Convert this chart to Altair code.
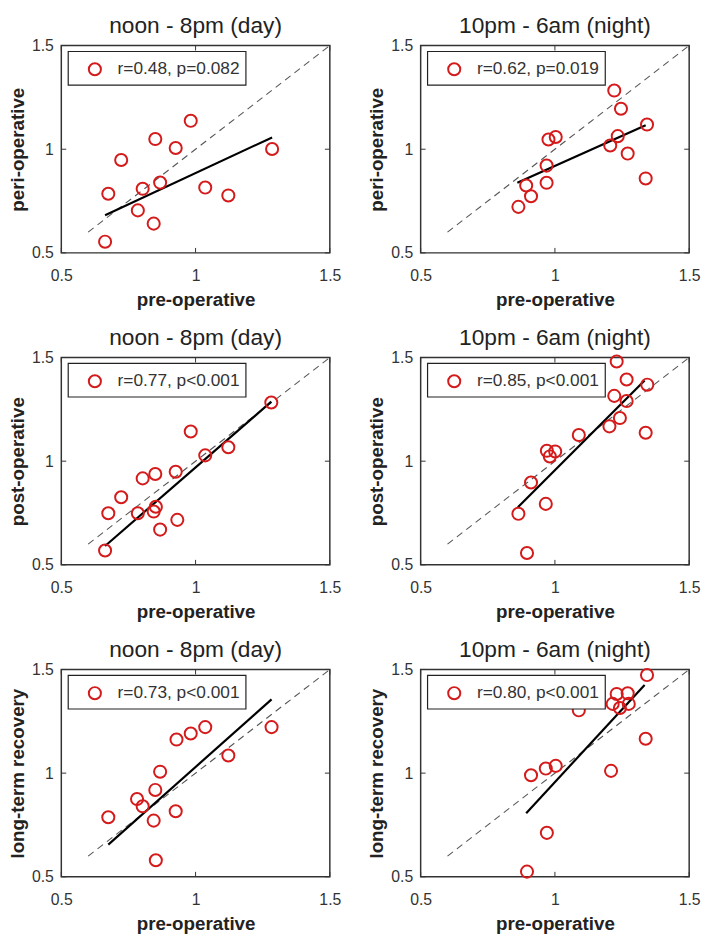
import altair as alt
import pandas as pd

FONT = "Liberation Sans"
COL_TITLES = ["noon - 8pm (day)", "10pm - 6am (night)"]
ROW_YTITLES = ["peri-operative", "post-operative", "long-term recovery"]
XTITLE = "pre-operative"
TICKS = [0.5, 1.0, 1.5]
DIAG = [0.6, 1.5]

# peri-operative, day
a_x = [0.982, 0.850, 0.926, 0.723, 1.285, 0.868, 0.803, 1.036, 1.122, 0.675, 0.785, 0.844, 0.663]
a_y = [1.137, 1.049, 1.006, 0.948, 1.001, 0.839, 0.809, 0.815, 0.777, 0.785, 0.705, 0.641, 0.554]
a_fit_x = [0.663, 1.285]
a_fit_y = [0.682, 1.057]
a_stat = "r=0.48, p=0.082"

# peri-operative, night
b_x = [1.221, 1.246, 1.343, 1.234, 1.206, 1.271, 1.338, 1.003, 0.976, 0.969, 0.969, 0.893, 0.911, 0.864]
b_y = [1.283, 1.195, 1.119, 1.063, 1.018, 0.979, 0.859, 1.059, 1.047, 0.921, 0.838, 0.825, 0.773, 0.722]
b_fit_x = [0.860, 1.338]
b_fit_y = [0.838, 1.116]
b_stat = "r=0.62, p=0.019"

# post-operative, day
c_x = [0.982, 1.282, 1.122, 1.036, 0.803, 0.850, 0.926, 0.723, 0.675, 0.785, 0.852, 0.844, 0.932, 0.868, 0.663]
c_y = [1.143, 1.283, 1.067, 1.028, 0.917, 0.938, 0.949, 0.826, 0.749, 0.749, 0.780, 0.757, 0.717, 0.670, 0.569]
c_fit_x = [0.663, 1.282]
c_fit_y = [0.591, 1.287]
c_stat = "r=0.77, p<0.001"

# post-operative, night
d_x = [1.230, 1.267, 1.344, 1.221, 1.267, 1.242, 1.203, 1.338, 1.089, 0.970, 1.001, 0.981, 0.911, 0.966, 0.864, 0.896]
d_y = [1.481, 1.394, 1.369, 1.315, 1.290, 1.208, 1.168, 1.137, 1.126, 1.050, 1.047, 1.023, 0.897, 0.794, 0.746, 0.557]
d_fit_x = [0.862, 1.334]
d_fit_y = [0.778, 1.389]
d_stat = "r=0.85, p<0.001"

# long-term recovery, day
e_x = [1.036, 0.982, 0.929, 1.283, 1.122, 0.868, 0.850, 0.782, 0.803, 0.926, 0.675, 0.844, 0.852]
e_y = [1.222, 1.191, 1.162, 1.222, 1.085, 1.007, 0.919, 0.875, 0.840, 0.816, 0.787, 0.771, 0.580]
e_fit_x = [0.675, 1.283]
e_fit_y = [0.655, 1.356]
e_stat = "r=0.73, p<0.001"

# long-term recovery, night
f_x = [1.343, 1.230, 1.271, 1.215, 1.275, 1.242, 1.089, 1.338, 0.911, 0.966, 1.003, 1.209, 0.970, 0.896]
f_y = [1.473, 1.382, 1.385, 1.334, 1.334, 1.314, 1.303, 1.166, 0.990, 1.022, 1.035, 1.011, 0.712, 0.525]
f_fit_x = [0.893, 1.334]
f_fit_y = [0.807, 1.425]
f_stat = "r=0.80, p<0.001"

W, H = 272, 210
RED = "#d41a1a"

xscale = alt.Scale(domain=[0.5, 1.5], nice=False, zero=False)
yscale = alt.Scale(domain=[0.5, 1.5], nice=False, zero=False)


def panel(xs, ys, fx, fy, stat, title, ytitle):
    pts = pd.DataFrame({"x": xs, "y": ys})
    fit = pd.DataFrame({"x": fx, "y": fy})
    diag = pd.DataFrame({"x": DIAG, "y": DIAG})
    ticks = pd.DataFrame({"t": TICKS})
    lab = pd.DataFrame({"label": [stat]})

    xenc = alt.X("x:Q", scale=xscale, title=XTITLE,
                 axis=alt.Axis(values=TICKS, format="~g", labelFlush=False))
    yenc = alt.Y("y:Q", scale=yscale, title=ytitle,
                 axis=alt.Axis(values=TICKS, format="~g"))

    diag_l = alt.Chart(diag).mark_line(color="#555555", strokeWidth=1.1, strokeDash=[7, 5]).encode(x=xenc, y=yenc)
    fit_l = alt.Chart(fit).mark_line(color="black", strokeWidth=2.2).encode(x=xenc, y=yenc)
    pt_l = alt.Chart(pts).mark_point(shape="circle", filled=False, color=RED, size=150, strokeWidth=2, opacity=1).encode(x=xenc, y=yenc)

    t_bot = alt.Chart(ticks).mark_rule(color="#333333").encode(
        x=alt.X("t:Q", scale=xscale), y=alt.value(H), y2=alt.value(H - 5))
    t_top = alt.Chart(ticks).mark_rule(color="#333333").encode(
        x=alt.X("t:Q", scale=xscale), y=alt.value(0), y2=alt.value(5))
    t_left = alt.Chart(ticks).mark_rule(color="#333333").encode(
        y=alt.Y("t:Q", scale=yscale), x=alt.value(0), x2=alt.value(5))
    t_right = alt.Chart(ticks).mark_rule(color="#333333").encode(
        y=alt.Y("t:Q", scale=yscale), x=alt.value(W), x2=alt.value(W - 5))

    box = alt.Chart(lab).mark_rect(fill="white", stroke="#222222", strokeWidth=1.2).encode(
        x=alt.value(7), x2=alt.value(187), y=alt.value(6), y2=alt.value(40))
    marker = alt.Chart(lab).mark_point(shape="circle", filled=False, color=RED, size=150, strokeWidth=2, opacity=1).encode(
        x=alt.value(34), y=alt.value(24))
    txt = alt.Chart(lab).mark_text(align="left", baseline="middle", font=FONT, fontSize=17.5, color="#333333").encode(
        x=alt.value(57), y=alt.value(24), text="label:N")

    return alt.layer(diag_l, fit_l, pt_l, t_bot, t_top, t_left, t_right, box, marker, txt).properties(
        width=W, height=H,
        title=alt.TitleParams(title, fontSize=23, font=FONT, fontWeight="normal", color="#222222", offset=0),
    )


rows = [
    [(a_x, a_y, a_fit_x, a_fit_y, a_stat), (b_x, b_y, b_fit_x, b_fit_y, b_stat)],
    [(c_x, c_y, c_fit_x, c_fit_y, c_stat), (d_x, d_y, d_fit_x, d_fit_y, d_stat)],
    [(e_x, e_y, e_fit_x, e_fit_y, e_stat), (f_x, f_y, f_fit_x, f_fit_y, f_stat)],
]

row_charts = []
for ri, row in enumerate(rows):
    panels = [panel(*row[ci], COL_TITLES[ci], ROW_YTITLES[ri]) for ci in range(2)]
    row_charts.append(alt.hconcat(*panels, spacing=26))

chart = alt.vconcat(*row_charts, spacing=16).properties(
    padding={"left": 0, "top": 0, "right": 2, "bottom": 2}
).configure_view(
    stroke="#333333", strokeWidth=1.5
).configure_axis(
    domain=False, ticks=False, grid=False,
    labelFont=FONT, labelFontSize=16, labelColor="#333333",
    titleFont=FONT, titleFontSize=19, titleFontWeight="bold", titleColor="#222222",
).configure_axisX(labelPadding=15, titlePadding=7).configure_axisY(labelPadding=8, titlePadding=4)

chart.save("out.html", embed_options={"renderer": "svg", "actions": False})
